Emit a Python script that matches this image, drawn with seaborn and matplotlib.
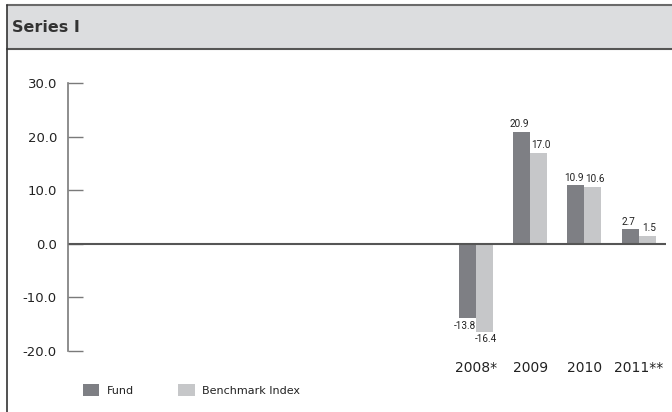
import pandas as pd
import matplotlib.pyplot as plt
import seaborn as sns
from matplotlib.patches import Rectangle
from matplotlib.lines import Line2D

# data
years = ["2001", "2002", "2003", "2004", "2005", "2006", "2007",
         "2008", "2009", "2010", "2011"]
year_labels = ["", "", "", "", "", "", "", "2008*", "2009", "2010", "2011**"]
data_years = ["2008", "2009", "2010", "2011"]
fund = [-13.8, 20.9, 10.9, 2.7]
benchmark = [-16.4, 17.0, 10.6, 1.5]
series = ["Fund", "Benchmark Index"]
colors = ["#7e7f84", "#c6c7c9"]
y_ticks = [-20, -10, 0, 10, 20, 30]

df = pd.DataFrame({
    "year": data_years * 2,
    "value": fund + benchmark,
    "series": [series[0]] * len(fund) + [series[1]] * len(benchmark),
})

sns.set_style("white")
plt.rcParams["font.family"] = ["DejaVu Sans"]

W, H = 672, 412
fig = plt.figure(figsize=(W / 100, H / 100), dpi=100)

# title bar and frame
fig.patches.append(Rectangle((7 / W, (H - 49) / H), 1 - 7 / W, 44 / H,
                             transform=fig.transFigure, facecolor="#dcdddf",
                             edgecolor="none", zorder=0))
fig.lines.append(Line2D([7 / W, 1], [(H - 5) / H] * 2, transform=fig.transFigure,
                        color="#6a6a6a", lw=1.5))
fig.lines.append(Line2D([7 / W, 1], [(H - 49) / H] * 2, transform=fig.transFigure,
                        color="#555555", lw=1.5))
fig.lines.append(Line2D([7 / W] * 2, [0, (H - 5) / H], transform=fig.transFigure,
                        color="#333333", lw=1.2))
fig.text(12 / W, (H - 27) / H, "Series I", fontsize=11.5, fontweight="bold",
         color="#333333", va="center", ha="left")

ax = fig.add_axes([68 / W, 61 / H, 598 / W, 268 / H])
sns.barplot(data=df, x="year", y="value", hue="series", order=years,
            hue_order=series, palette=colors, width=0.625, gap=0,
            saturation=1, errorbar=None, legend=False, linewidth=0, ax=ax)

ax.set_xlim(-0.5, len(years) - 0.5)
ax.set_ylim(-20, 30)
ax.set_yticks(y_ticks)
ax.set_yticklabels([f"{v:.1f}" for v in y_ticks])
ax.set_xticks(range(len(years)))
ax.set_xticklabels(year_labels)
ax.set_xlabel("")
ax.set_ylabel("")

for side in ["top", "right", "bottom"]:
    ax.spines[side].set_visible(False)
ax.spines["left"].set_color("#7a7a7a")
ax.spines["left"].set_linewidth(1.2)
ax.tick_params(axis="y", left=True, direction="in", length=10.5, width=1,
               color="#7a7a7a", pad=8, labelsize=9.5, labelcolor="#222222")
ax.tick_params(axis="x", bottom=False, length=0, pad=7, labelsize=10,
               labelcolor="#222222")
ax.axhline(0, color="#555555", lw=1.5, zorder=1)

# value labels, nudged apart a little like in the original
for cont, dx in zip(ax.containers, [-1.5, 1.5]):
    labels = ax.bar_label(cont, fmt="%.1f", padding=2, fontsize=7.2,
                          fontstretch="condensed", family=["Roboto", "DejaVu Sans"],
                          color="#222222")
    for lab in labels:
        x0, y0 = lab.xyann
        lab.xyann = (x0 + dx, y0)

handles = [Rectangle((0, 0), 1, 1, facecolor=c, edgecolor="none") for c in colors]
fig.legend(handles, series, loc="center left", bbox_to_anchor=(83 / W, 22 / H),
           ncol=2, frameon=False, fontsize=8, handlelength=1.45, handleheight=1.35,
           handletextpad=0.7, columnspacing=4.0, borderpad=0, borderaxespad=0,
           labelcolor="#222222")

fig.savefig("out.png", dpi=100)
